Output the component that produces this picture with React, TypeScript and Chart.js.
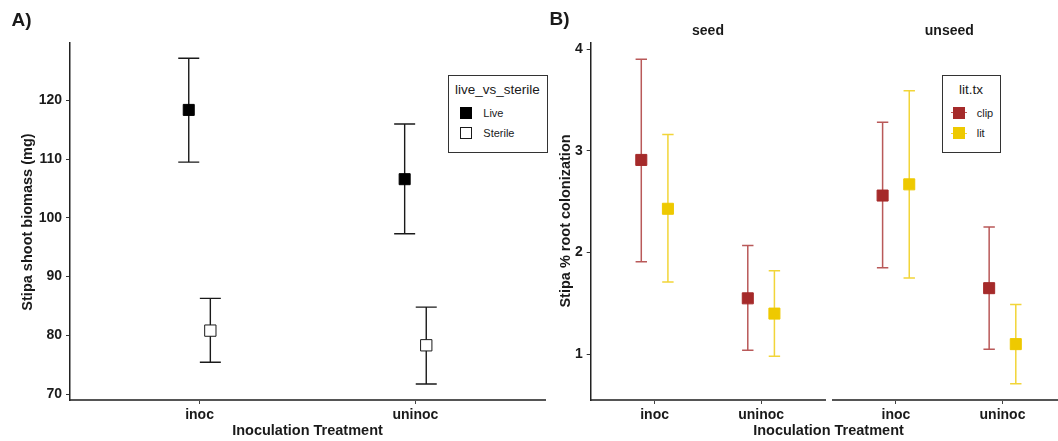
import { useEffect, useRef } from "react";
import { Chart, registerables } from "chart.js";

Chart.register(...registerables);

// Panel A: Stipa shoot biomass by inoculation treatment, live vs sterile soil
const treatments = ["inoc", "uninoc"];
const soilGroups = ["Live", "Sterile"];
const liveMean = [118.4, 106.6];
const liveLower = [109.5, 97.3];
const liveUpper = [127.2, 116.0];
const sterileMean = [80.8, 78.3];
const sterileLower = [75.4, 71.7];
const sterileUpper = [86.3, 84.8];
const biomassTicks = [70, 80, 90, 100, 110, 120];

// Panel B: Stipa root colonization, faceted by seeding, clipped vs litter
const seedingFacets = ["seed", "unseed"];
const litGroups = ["clip", "lit"];
const seedClipMean = [2.91, 1.55];
const seedClipLower = [1.91, 1.04];
const seedClipUpper = [3.9, 2.07];
const seedLitMean = [2.43, 1.4];
const seedLitLower = [1.71, 0.98];
const seedLitUpper = [3.16, 1.82];
const unseedClipMean = [2.56, 1.65];
const unseedClipLower = [1.85, 1.05];
const unseedClipUpper = [3.28, 2.25];
const unseedLitMean = [2.67, 1.1];
const unseedLitLower = [1.75, 0.71];
const unseedLitUpper = [3.59, 1.49];
const colonizationTicks = [1, 2, 3, 4];

const FONT = "'Liberation Sans', Arial, Helvetica, sans-serif";
const INK = "#1a1a1a";
const CLIP = "#A52A2A";
const CLIP_BAR = "rgba(165,42,42,0.78)";
const LIT = "#EEC900";
const LIT_BAR = "rgba(238,201,0,0.78)";

type Pt = { x: number; y: number; lo: number; hi: number };

function points(mean: number[], lo: number[], hi: number[], dodge: number): Pt[] {
  return mean.map((m, i) => ({ x: i + 1 + dodge, y: m, lo: lo[i], hi: hi[i] }));
}

// Draws vertical error bars with caps underneath the point markers
const errorBars = {
  id: "errorBars",
  beforeDatasetsDraw(chart: any) {
    const { ctx } = chart;
    const xs = chart.scales.x;
    const ys = chart.scales.y;
    chart.data.datasets.forEach((ds: any) => {
      ctx.save();
      ctx.strokeStyle = ds.barColor;
      ctx.lineWidth = ds.barWidth;
      ds.data.forEach((p: Pt) => {
        const px = xs.getPixelForValue(p.x);
        const yLo = ys.getPixelForValue(p.lo);
        const yHi = ys.getPixelForValue(p.hi);
        ctx.beginPath();
        ctx.moveTo(px, yHi);
        ctx.lineTo(px, yLo);
        ctx.moveTo(px - ds.capHalf, yHi);
        ctx.lineTo(px + ds.capHalf, yHi);
        ctx.moveTo(px - ds.capHalf, yLo);
        ctx.lineTo(px + ds.capHalf, yLo);
        ctx.stroke();
      });
      ctx.restore();
    });
  },
};

function xScale() {
  return {
    type: "linear",
    min: 0.4,
    max: 2.6,
    bounds: "data",
    afterBuildTicks: (s: any) => {
      s.ticks = treatments.map((_, i) => ({ value: i + 1 }));
    },
    afterFit: (s: any) => {
      s.height = 41;
      s.paddingLeft = 0;
      s.paddingRight = 0;
    },
    ticks: {
      autoSkip: false,
      maxRotation: 0,
      padding: 3,
      color: INK,
      font: { family: FONT, size: 14, weight: "bold" },
      callback: (v: number) => treatments[Math.round(v) - 1] ?? "",
    },
    grid: { display: true, drawOnChartArea: false, drawTicks: true, tickLength: 4, color: "#444", lineWidth: 1 },
    border: { display: true, color: "#555", width: 2 },
  };
}

function yScale(min: number, max: number, tickValues: number[], width: number, show: boolean) {
  return {
    type: "linear",
    display: show,
    min,
    max,
    bounds: "data",
    afterBuildTicks: (s: any) => {
      s.ticks = tickValues.map((v) => ({ value: v }));
    },
    afterFit: (s: any) => {
      s.width = width;
      s.paddingTop = 0;
      s.paddingBottom = 0;
    },
    ticks: {
      autoSkip: false,
      padding: 4,
      color: INK,
      font: { family: FONT, size: 14, weight: "bold" },
      callback: (v: number) => String(v),
    },
    grid: { display: true, drawOnChartArea: false, drawTicks: true, tickLength: 4, color: "#333", lineWidth: 1 },
    border: { display: true, color: "#222", width: 1.5 },
  };
}

function baseOptions(scales: any, padding: any) {
  return {
    responsive: false,
    animation: false,
    events: [],
    layout: { padding, autoPadding: false },
    plugins: { legend: { display: false }, tooltip: { enabled: false } },
    scales,
  };
}

function biomassConfig() {
  return {
    type: "scatter",
    data: {
      datasets: [
        {
          label: soilGroups[0],
          data: points(liveMean, liveLower, liveUpper, -0.05),
          pointStyle: "rect",
          pointRadius: 7.8,
          backgroundColor: "#000",
          borderColor: "#000",
          borderWidth: 1,
          barColor: INK,
          barWidth: 1.4,
          capHalf: 10.5,
        },
        {
          label: soilGroups[1],
          data: points(sterileMean, sterileLower, sterileUpper, 0.05),
          pointStyle: "rect",
          pointRadius: 8,
          backgroundColor: "#fff",
          borderColor: INK,
          borderWidth: 1,
          barColor: INK,
          barWidth: 1.4,
          capHalf: 10.5,
        },
      ],
    },
    options: baseOptions(
      { x: xScale(), y: yScale(68.98, 129.8, biomassTicks, 70, true) },
      { left: 0, top: 43, right: 15, bottom: 0 }
    ),
    plugins: [errorBars],
  };
}

function colonizationConfig(
  clip: [number[], number[], number[]],
  lit: [number[], number[], number[]],
  yWidth: number,
  showY: boolean,
  padRight: number
) {
  const marker = { pointStyle: "rect", pointRadius: 7.8, borderWidth: 1, barWidth: 1.5, capHalf: 5.7 };
  return {
    type: "scatter",
    data: {
      datasets: [
        {
          label: litGroups[0],
          data: points(clip[0], clip[1], clip[2], -0.125),
          ...marker,
          backgroundColor: CLIP,
          borderColor: CLIP,
          barColor: CLIP_BAR,
        },
        {
          label: litGroups[1],
          data: points(lit[0], lit[1], lit[2], 0.125),
          ...marker,
          backgroundColor: LIT,
          borderColor: LIT,
          barColor: LIT_BAR,
        },
      ],
    },
    options: baseOptions(
      { x: xScale(), y: yScale(0.551, 4.059, colonizationTicks, yWidth, showY) },
      { left: 0, top: 43, right: padRight, bottom: 0 }
    ),
    plugins: [errorBars],
  };
}

function ChartCanvas(props: { make: () => any; left: number; width: number }) {
  const ref = useRef<HTMLCanvasElement>(null);
  useEffect(() => {
    const chart = new Chart(ref.current as HTMLCanvasElement, props.make());
    return () => chart.destroy();
  }, []);
  return (
    <canvas
      ref={ref}
      width={props.width}
      height={441}
      style={{ position: "absolute", left: props.left, top: 0, width: props.width, height: 441 }}
    />
  );
}

function Label(props: {
  text: string;
  x: number;
  y: number;
  size: number;
  bold?: boolean;
  rotate?: boolean;
  align?: "center" | "left";
}) {
  const centered = props.align !== "left";
  return (
    <div
      style={{
        position: "absolute",
        left: props.x,
        top: props.y,
        transform: `translate(${centered ? "-50%" : "0"}, -50%)${props.rotate ? " rotate(-90deg)" : ""}`,
        fontFamily: FONT,
        fontSize: props.size,
        fontWeight: props.bold ? 700 : 400,
        color: INK,
        whiteSpace: "nowrap",
        lineHeight: 1,
      }}
    >
      {props.text}
    </div>
  );
}

function Box(props: { left: number; top: number; width: number; height: number }) {
  return (
    <div
      style={{
        position: "absolute",
        left: props.left,
        top: props.top,
        width: props.width,
        height: props.height,
        border: "1.5px solid #333",
        boxSizing: "border-box",
        background: "#fff",
      }}
    />
  );
}

function Square(props: { cx: number; cy: number; fill: string; stroke: string; line?: string }) {
  return (
    <>
      {props.line && (
        <div
          style={{
            position: "absolute",
            left: props.cx - 8,
            top: props.cy - 0.75,
            width: 16,
            height: 1.5,
            background: props.line,
          }}
        />
      )}
      <div
        style={{
          position: "absolute",
          left: props.cx - 6,
          top: props.cy - 6,
          width: 12,
          height: 12,
          background: props.fill,
          border: `1px solid ${props.stroke}`,
          boxSizing: "border-box",
        }}
      />
    </>
  );
}

export default function App() {
  return (
    <div
      style={{
        position: "absolute",
        left: 0,
        top: 0,
        width: 1058,
        height: 441,
        overflow: "hidden",
        background: "#fff",
      }}
    >
      <ChartCanvas make={biomassConfig} left={0} width={560} />
      <ChartCanvas
        make={() =>
          colonizationConfig(
            [seedClipMean, seedClipLower, seedClipUpper],
            [seedLitMean, seedLitLower, seedLitUpper],
            90.7,
            true,
            5
          )
        }
        left={500}
        width={330}
      />
      <ChartCanvas
        make={() =>
          colonizationConfig(
            [unseedClipMean, unseedClipLower, unseedClipUpper],
            [unseedLitMean, unseedLitLower, unseedLitUpper],
            0,
            false,
            5.6
          )
        }
        left={832}
        width={240}
      />

      {/* panel tags */}
      <Label text="A)" x={21.5} y={19} size={19} bold />
      <Label text="B)" x={559.5} y={18} size={19} bold />

      {/* axis titles */}
      <Label text="Stipa shoot biomass (mg)" x={27} y={222} size={14.5} bold rotate />
      <Label text="Inoculation Treatment" x={307.5} y={430} size={14.5} bold />
      <Label text="Stipa % root colonization" x={565} y={221} size={14.5} bold rotate />
      <Label text="Inoculation Treatment" x={828.5} y={430} size={14.5} bold />

      {/* facet strips */}
      <Label text={seedingFacets[0]} x={708} y={30} size={14} bold />
      <Label text={seedingFacets[1]} x={949.3} y={30} size={14} bold />

      {/* legend: live_vs_sterile */}
      <Box left={447.5} top={75} width={100.5} height={77.5} />
      <Label text="live_vs_sterile" x={455} y={90} size={13.5} align="left" />
      <Square cx={465.7} cy={112.7} fill="#000" stroke="#000" />
      <Square cx={465.7} cy={133.3} fill="#fff" stroke={INK} />
      <Label text={soilGroups[0]} x={483.3} y={112.7} size={11} align="left" />
      <Label text={soilGroups[1]} x={483.3} y={133.3} size={11} align="left" />

      {/* legend: lit.tx */}
      <Box left={942} top={75} width={58.5} height={77.5} />
      <Label text="lit.tx" x={971} y={90} size={13.5} />
      <Square cx={959} cy={112.7} fill={CLIP} stroke={CLIP} line={CLIP_BAR} />
      <Square cx={959} cy={133.3} fill={LIT} stroke={LIT} line={LIT_BAR} />
      <Label text={litGroups[0]} x={976.7} y={112.7} size={11} align="left" />
      <Label text={litGroups[1]} x={976.7} y={133.3} size={11} align="left" />
    </div>
  );
}
